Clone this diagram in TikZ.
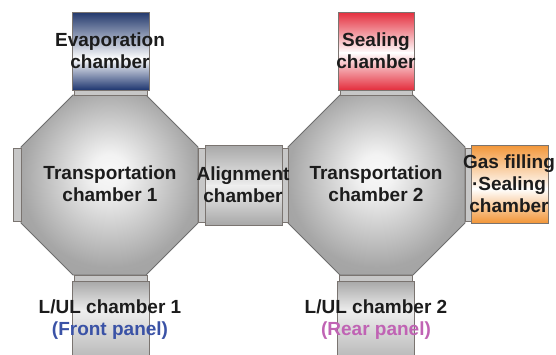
\documentclass[tikz,border=0pt]{standalone}
\usepackage{fontspec}
\setmainfont{Liberation Sans}
\definecolor{txt}{HTML}{1C1C1C}
\definecolor{navyT}{HTML}{22386C}
\definecolor{navyB}{HTML}{1E3670}
\definecolor{redc}{HTML}{E42E3D}
\definecolor{orangec}{HTML}{F29638}
\definecolor{grayedge}{HTML}{A8A8A8}
\definecolor{graymid}{HTML}{EEEEEE}
\definecolor{boxline}{HTML}{7A7470}
\definecolor{octline}{HTML}{6E6E6E}
\definecolor{frontc}{HTML}{3A52A6}
\definecolor{rearc}{HTML}{C063B4}
\pgfdeclareradialshading{octsh}{\pgfpoint{0bp}{4bp}}{color(0bp)=(black!3); color(5bp)=(black!5); color(25bp)=(black!35); color(50bp)=(black!38)}
\tikzset{
  octa/.style={draw=octline, line width=0.8pt, shading=octsh},
  chbox/.style={draw=boxline, line width=0.6pt},
  valve/.style={draw=boxline, line width=0.5pt, fill=black!22},
  grad/.style 2 args={shade, top color=#1, bottom color=#2},
  lbl/.style={font=\fontsize{19}{21.5}\selectfont\bfseries, text=txt, align=center, inner sep=0pt, anchor=base},
}
\begin{document}
\begin{tikzpicture}[x=1pt,y=-1pt]
\useasboundingbox (0,0) rectangle (556,354);
\begin{scope}
\clip (0,0) rectangle (556,354);
% octagons
\path[octa] (73,95) -- (146,95) -- (198,147) -- (198,223) -- (146,275) -- (73,275) -- (21,223) -- (21,147) -- cycle;
\path[octa] (340,95) -- (413,95) -- (465,147) -- (465,223) -- (413,275) -- (340,275) -- (288,223) -- (288,147) -- cycle;
% valves
\path[valve] (74,90) rectangle (147,95);
\path[valve] (340,90) rectangle (412,95);
\path[valve] (74,275) rectangle (147,281);
\path[valve] (339,275) rectangle (412,281);
\path[valve] (13,148) rectangle (21,221);
\path[valve] (198,148) rectangle (205,222);
\path[valve] (282,148) rectangle (288,222);
\path[valve] (465,148) rectangle (471,221);
% evaporation chamber
\path[grad={navyT}{white}] (72,12) rectangle (149,59);
\path[grad={white}{navyB}] (72,58.6) rectangle (149,90);
\path[chbox] (72,12) rectangle (149,90);
% sealing chamber
\path[grad={redc}{white}] (338,12) rectangle (414,53);
\path[grad={white}{redc}] (338,52.6) rectangle (414,90);
\path[chbox] (338,12) rectangle (414,90);
% alignment chamber
\path[grad={grayedge}{graymid}] (205,145) rectangle (282,186);
\path[grad={graymid}{grayedge}] (205,185.6) rectangle (282,225);
\path[chbox] (205,145) rectangle (282,225);
% gas filling chamber
\path[grad={orangec}{white}] (471,145) rectangle (548,189);
\path[grad={white}{orangec}] (471,188.6) rectangle (548,223);
\path[chbox] (471,145) rectangle (548,223);
% L/UL chambers
\path[grad={grayedge}{graymid}] (72,281) rectangle (149,311);
\path[grad={graymid}{grayedge}] (72,310.6) rectangle (149,372);
\path[chbox] (72,281) rectangle (149,372);
\path[grad={grayedge}{graymid}] (337,281) rectangle (414,311);
\path[grad={graymid}{grayedge}] (337,310.6) rectangle (414,372);
\path[chbox] (337,281) rectangle (414,372);
\end{scope}
% labels (base anchor = last line baseline)
\node[lbl] (evap) at (110,68) {Evaporation\\chamber};
\node[lbl] (seal) at (376,68) {Sealing\\chamber};
\node[lbl] (tr1) at (110,201) {Transportation\\chamber 1};
\node[lbl] (align) at (243,202) {Alignment\\chamber};
\node[lbl] (tr2) at (376,201) {Transportation\\chamber 2};
\node[lbl] (gas) at (509,212) {Gas filling\\[1pt]{\textperiodcentered}Sealing\\chamber};
\node[lbl] (lul1) at (110,335) {L/UL chamber 1\\\textcolor{frontc}{(Front panel)}};
\node[lbl] (lul2) at (376,335) {L/UL chamber 2\\\textcolor{rearc}{(Rear panel)}};
\end{tikzpicture}
\end{document}
